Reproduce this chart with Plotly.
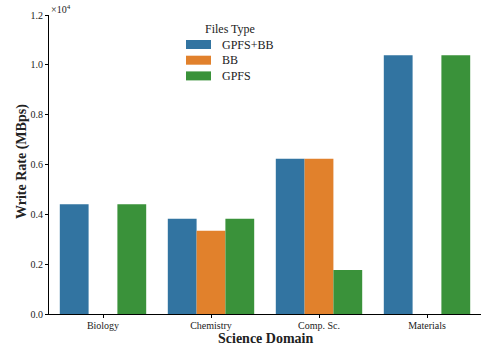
import plotly.graph_objects as go

domains = ["Biology", "Chemistry", "Comp. Sc.", "Materials"]
gpfs_bb = [4400, 3820, 6230, 10380]
bb = [0, 3340, 6230, 0]
gpfs = [4400, 3820, 1770, 10380]
series_names = ["GPFS+BB", "BB", "GPFS"]
colors = ["#3274a1", "#e1812c", "#3a923a"]
ytick_vals = [0, 2000, 4000, 6000, 8000, 10000, 12000]
ytick_text = ["0.0", "0.2", "0.4", "0.6", "0.8", "1.0", "1.2"]

font = "Liberation Serif, Times New Roman, serif"
L, T, W, H = 49, 15, 432, 299


def px(x):
    return (x - L) / W


def py(y):
    return (T + H - y) / H


fig = go.Figure()
for name, vals, c in zip(series_names, [gpfs_bb, bb, gpfs], colors):
    fig.add_trace(go.Bar(x=domains, y=vals, name=name, showlegend=False,
                         marker=dict(color=c, line=dict(width=0))))

fig.update_layout(
    width=481, height=345,
    margin=dict(l=L, r=481 - L - W, t=T, b=345 - T - H),
    plot_bgcolor="white", paper_bgcolor="white",
    barmode="group", bargap=0.2, bargroupgap=0,
    font=dict(family=font, size=10, color="#222"),
    showlegend=False,
)
fig.update_xaxes(
    showline=True, linecolor="black", linewidth=1, ticks="outside", ticklen=3,
    tickcolor="black", showgrid=False, tickfont=dict(size=10),
    ticklabelstandoff=-1,
    range=[-0.5, 3.5],
)
fig.update_yaxes(
    range=[0, 12000], tickvals=ytick_vals, ticktext=ytick_text,
    showline=True, linecolor="black", linewidth=1, ticks="outside", ticklen=3,
    tickcolor="black", showgrid=False, zeroline=False, tickfont=dict(size=10),
)
# axis titles
fig.add_annotation(text="<b>Science Domain</b>", x=0.5, y=py(338), xref="paper", yref="paper",
                   xanchor="center", yanchor="middle", showarrow=False, font=dict(size=14))
fig.add_annotation(text="<b>Write Rate (MBps)</b>", x=px(22), y=py(162), xref="paper", yref="paper",
                   xanchor="center", yanchor="middle", showarrow=False, textangle=-90, font=dict(size=14))
# offset label
fig.add_annotation(text="×10<sup>4</sup>", x=0, y=1.0, xref="paper", yref="paper",
                   xanchor="left", yanchor="bottom", showarrow=False, font=dict(size=10), yshift=-2)
# legend
fig.add_annotation(text="Files Type", x=px(230), y=py(29), xref="paper", yref="paper",
                   xanchor="center", yanchor="middle", showarrow=False, font=dict(size=12))
for i, (name, c) in enumerate(zip(series_names, colors)):
    yc = 44.5 + i * 15.7
    fig.add_shape(type="rect", xref="paper", yref="paper",
                  x0=px(186), x1=px(211), y0=py(yc - 4.5), y1=py(yc + 4.5),
                  fillcolor=c, line=dict(width=0))
    fig.add_annotation(text=name, x=px(220), y=py(yc), xref="paper", yref="paper",
                       xanchor="left", yanchor="middle", showarrow=False, font=dict(size=12))
fig.write_html("out.html")
